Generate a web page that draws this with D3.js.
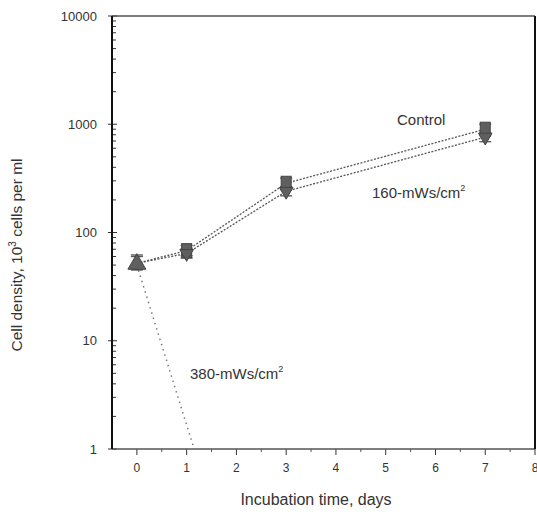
<!DOCTYPE html>
<html>
<head>
	<meta charset="UTF-8">
	<script src="https://d3js.org/d3.v7.min.js"></script>
	<style>
		body { margin: 0; background: #fff; }
		text { font-family: "Liberation Sans", Arial, sans-serif; fill: #333; }
	</style>
</head>
<body>
	<svg></svg>
	<script type="text/javascript">

		// data
		const days = [0, 1, 3, 7];
		const control = [52, 68, 285, 900];
		const controlLow = [45, 61, 255, 800];
		const controlHigh = [62, 76, 318, 1000];

		const days160 = [0, 1, 3, 7];
		const mws160 = [52, 64, 240, 760];
		const mws160Low = [46, 58, 218, 690];
		const mws160High = [60, 71, 266, 840];

		const days380 = [0, 1.15];
		const mws380 = [50, 1];

		const xTicks = [0, 1, 2, 3, 4, 5, 6, 7, 8];
		const yTicks = [1, 10, 100, 1000, 10000];

		const margin = {top: 16, right: 2, bottom: 71, left: 112};
		const width = 537;
		const height = 520;

		const svg = d3.select("svg")
			.attr("width", width)
			.attr("height", height);

		const x = d3.scaleLinear()
			.domain([-0.5, 8])
			.range([margin.left, width - margin.right]);

		const y = d3.scaleLog()
			.domain([1, 10000])
			.range([height - margin.bottom, margin.top]);

		// y axis with inward minor ticks
		const minor = [];
		for (let d = 1; d < 10000; d *= 10)
			for (let k = 2; k <= 9; k++) minor.push(d * k);

		svg.append("g")
			.selectAll("line")
			.data(minor)
			.join("line")
				.attr("x1", margin.left)
				.attr("x2", margin.left + 4)
				.attr("y1", d => y(d))
				.attr("y2", d => y(d))
				.attr("stroke", "#333");

		svg.append("g")
			.selectAll("line")
			.data(yTicks)
			.join("line")
				.attr("x1", margin.left - 4)
				.attr("x2", margin.left + 5)
				.attr("y1", d => y(d))
				.attr("y2", d => y(d))
				.attr("stroke", "#333");

		svg.append("g")
			.selectAll("text")
			.data(yTicks)
			.join("text")
				.attr("x", margin.left - 15)
				.attr("y", d => y(d))
				.attr("dy", "0.35em")
				.attr("text-anchor", "end")
				.attr("font-size", 13)
				.text(d => d);

		// x axis ticks
		svg.append("g")
			.selectAll("line")
			.data(d3.range(0, 8, 1).map(d => d + 0.5))
			.join("line")
				.attr("x1", d => x(d))
				.attr("x2", d => x(d))
				.attr("y1", y(1))
				.attr("y2", y(1) + 3)
				.attr("stroke", "#555");

		svg.append("g")
			.selectAll("line")
			.data(xTicks)
			.join("line")
				.attr("x1", d => x(d))
				.attr("x2", d => x(d))
				.attr("y1", y(1))
				.attr("y2", y(1) + 6)
				.attr("stroke", "#333");

		svg.append("g")
			.selectAll("text")
			.data(xTicks)
			.join("text")
				.attr("x", d => x(d))
				.attr("y", y(1) + 19)
				.attr("dy", "0.35em")
				.attr("text-anchor", "middle")
				.attr("font-size", 12)
				.text(d => d);

		// frame
		const x0 = x.range()[0], x1 = x.range()[1];
		const y0 = y.range()[0], y1 = y.range()[1];
		svg.append("line").attr("x1", x0).attr("x2", x1).attr("y1", y1).attr("y2", y1)
			.attr("stroke", "#555").attr("stroke-width", 1.3);
		svg.append("line").attr("x1", x0).attr("x2", x1).attr("y1", y0).attr("y2", y0)
			.attr("stroke", "#555").attr("stroke-width", 1.3);
		svg.append("line").attr("x1", x0).attr("x2", x0).attr("y1", y0).attr("y2", y1)
			.attr("stroke", "#111").attr("stroke-width", 2);
		svg.append("line").attr("x1", x1).attr("x2", x1).attr("y1", y0).attr("y2", y1)
			.attr("stroke", "#111").attr("stroke-width", 2);

		// lines
		const line = d3.line()
			.x(d => x(d[0]))
			.y(d => y(d[1]));

		[[days, control], [days160, mws160]].forEach(([xs, ys]) => {
			svg.append("path")
				.datum(d3.zip(xs, ys))
				.attr("d", line)
				.attr("fill", "none")
				.attr("stroke", "#555")
				.attr("stroke-width", 1.3)
				.attr("stroke-dasharray", "2,1.5");
		});

		svg.append("path")
			.datum(d3.zip(days380, mws380))
			.attr("d", line)
			.attr("fill", "none")
			.attr("stroke", "#777")
			.attr("stroke-width", 1.5)
			.attr("stroke-dasharray", "1.5,4");

		// error bars
		function errorBars(xs, lo, hi) {
			const g = svg.append("g").attr("stroke", "#555");
			const rows = d3.zip(xs, lo, hi);
			g.selectAll(".v").data(rows).join("line")
				.attr("stroke-width", 3)
				.attr("x1", d => x(d[0])).attr("x2", d => x(d[0]))
				.attr("y1", d => y(d[1])).attr("y2", d => y(d[2]));
			g.selectAll(".lo").data(rows).join("line")
				.attr("stroke-width", 1.3)
				.attr("x1", d => x(d[0]) - 6).attr("x2", d => x(d[0]) + 6)
				.attr("y1", d => y(d[1])).attr("y2", d => y(d[1]));
			g.selectAll(".hi").data(rows).join("line")
				.attr("stroke-width", 1.3)
				.attr("x1", d => x(d[0]) - 6).attr("x2", d => x(d[0]) + 6)
				.attr("y1", d => y(d[2])).attr("y2", d => y(d[2]));
		}
		errorBars(days, controlLow, controlHigh);
		errorBars(days160, mws160Low, mws160High);

		// markers: control squares, 160 down-triangles, shared day-0 up-triangle
		svg.append("g")
			.selectAll("rect")
			.data(d3.zip(days, control).filter(d => d[0] > 0))
			.join("rect")
				.attr("x", d => x(d[0]) - 5)
				.attr("y", d => y(d[1]) - 7)
				.attr("width", 10)
				.attr("height", 14)
				.attr("fill", "#5f5f5f")
				.attr("stroke", "#444");

		const triDown = d3.symbol().type(d3.symbolTriangle).size(80);
		svg.append("g")
			.selectAll("path")
			.data(d3.zip(days160, mws160).filter(d => d[0] > 0))
			.join("path")
				.attr("transform", d => `translate(${x(d[0])},${y(d[1])}) rotate(180)`)
				.attr("d", triDown)
				.attr("fill", "#5f5f5f")
				.attr("stroke", "#444");

		const triUp = d3.symbol().type(d3.symbolTriangle).size(140);
		svg.append("g")
			.selectAll("path")
			.data(d3.zip(days380, mws380).slice(0, 1))
			.join("path")
				.attr("transform", d => `translate(${x(d[0])},${y(d[1]) - 1})`)
				.attr("d", triUp)
				.attr("fill", "#5f5f5f")
				.attr("stroke", "#444");

		// series labels
		svg.append("text")
			.attr("x", 397)
			.attr("y", y(control[3]) - 4)
			.attr("font-size", 15)
			.text("Control");

		const t160 = svg.append("text")
			.attr("x", 372)
			.attr("y", y(mws160[2]) + 7)
			.attr("font-size", 15);
		t160.append("tspan").text("160-mWs/cm");
		t160.append("tspan").attr("dy", -7).attr("font-size", 9).text("2");

		const t380 = svg.append("text")
			.attr("x", 190)
			.attr("y", y(4.4))
			.attr("font-size", 15);
		t380.append("tspan").text("380-mWs/cm");
		t380.append("tspan").attr("dy", -7).attr("font-size", 9).text("2");

		// axis titles
		svg.append("text")
			.attr("x", 316)
			.attr("y", 505)
			.attr("text-anchor", "middle")
			.attr("font-size", 16)
			.text("Incubation time, days");

		const yt = svg.append("text")
			.attr("transform", `translate(22,255) rotate(-90)`)
			.attr("text-anchor", "middle")
			.attr("font-size", 15.5);
		yt.append("tspan").text("Cell density, 10");
		yt.append("tspan").attr("dy", -6).attr("font-size", 10).text("3");
		yt.append("tspan").attr("dy", 6).text(" cells per ml");

	</script>
</body>
</html>
